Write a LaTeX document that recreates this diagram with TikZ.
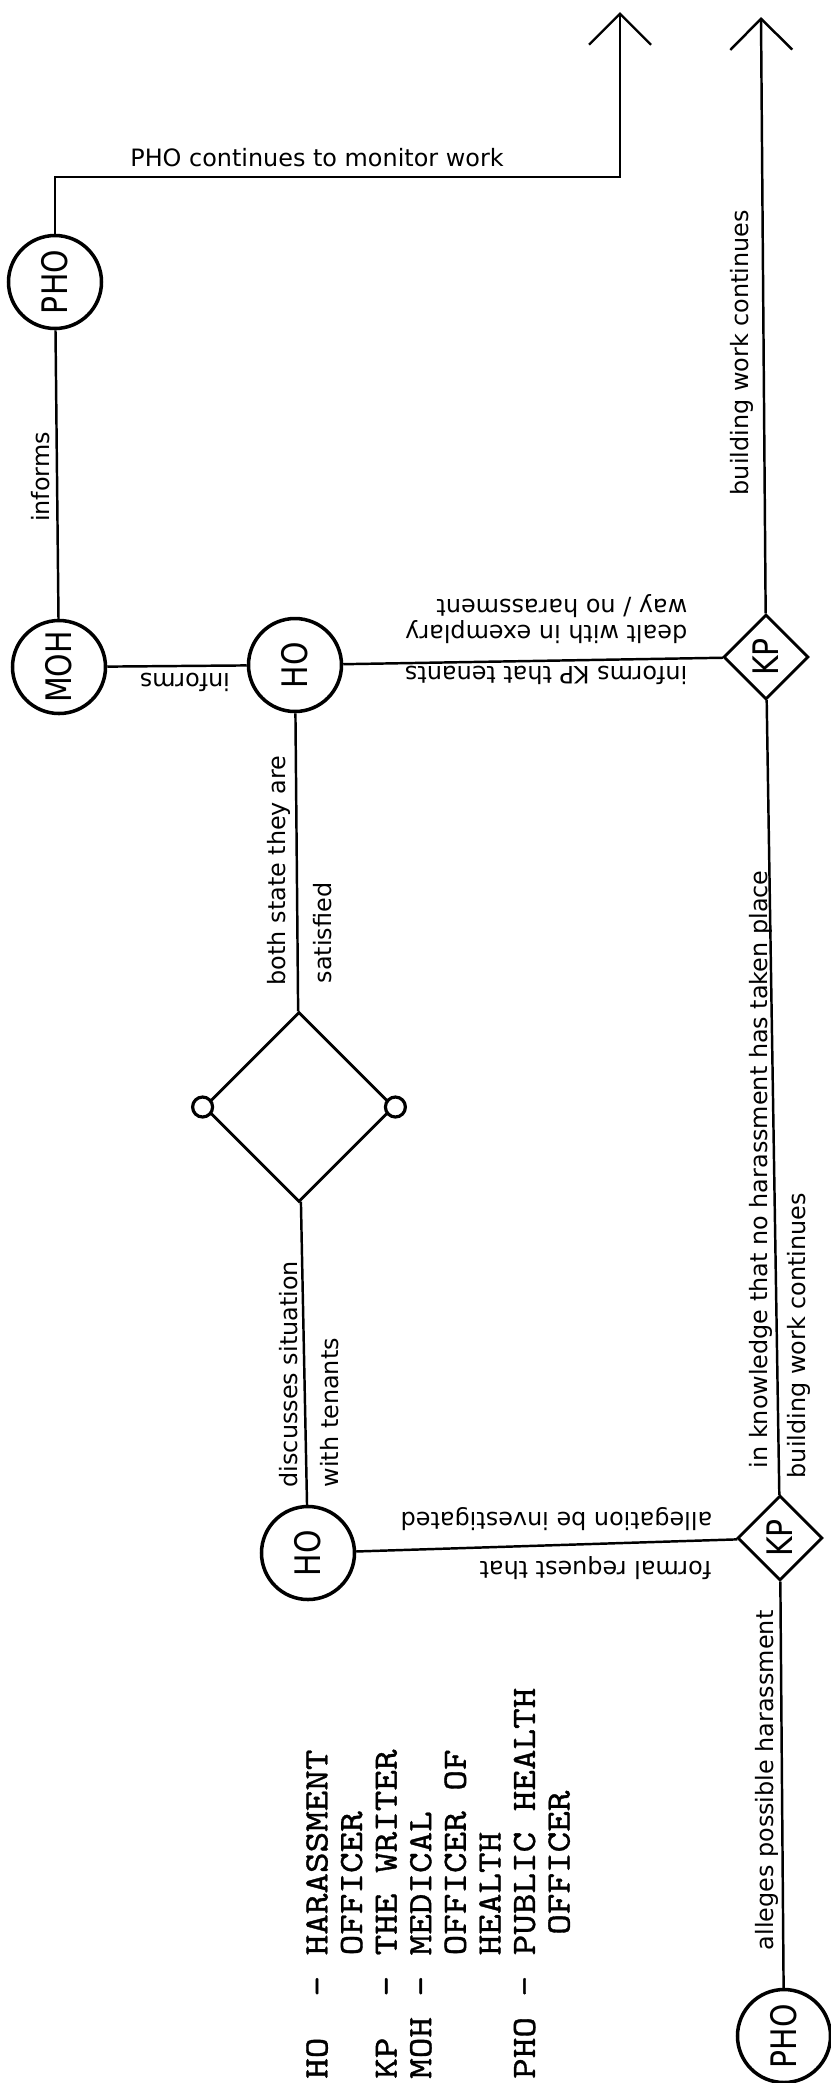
\documentclass[tikz,border=0pt]{standalone}
\usepackage{fontspec}
\usetikzlibrary{shapes.geometric, arrows.meta}
\newfontfamily\lblfont{DejaVu Sans}
\newfontfamily\actfont[FakeStretch=0.85]{DejaVu Sans}
\newfontfamily\keyfont[FakeStretch=1.15, FakeBold=1]{Latin Modern Mono}
\begin{document}
\begin{tikzpicture}[line width=0.7pt,
    actor/.style={draw, circle, line width=1pt, minimum size=0.93cm, inner sep=0pt, rotate=90, font=\actfont\fontsize{10}{12}\selectfont},
    kp/.style={draw, diamond, line width=0.8pt, minimum size=0.85cm, inner sep=0pt, rotate=90, font=\actfont\fontsize{10}{12}\selectfont},
    talk/.style={draw, diamond, line width=0.8pt, minimum size=1.9cm, inner sep=0pt},
    port/.style={draw, circle, fill=white, line width=0.9pt, minimum size=0.2cm, inner sep=0pt},
    lbl/.style={font=\lblfont\fontsize{6.8}{7.2}\selectfont, inner sep=1pt, align=left},
    vlbl/.style={lbl, rotate=90},
    hlbl/.style={lbl, rotate=180},
    keytext/.style={rotate=90, inner sep=0pt, align=left, font=\keyfont\fontsize{9.7}{9.84}\selectfont},
    flowon/.style={-{Straight Barb[length=0.31cm, width=0.62cm]}}]
  \useasboundingbox (0,0) rectangle (8.31,-20.83);
  % people
  \node[actor] (phoT) at (0.55,-2.82) {PHO};
  \node[actor] (moh) at (0.59,-6.67) {MOH};
  \node[actor] (hoT) at (2.95,-6.65) {HO};
  \node[actor] (hoB) at (3.08,-15.53) {HO};
  \node[actor] (phoB) at (7.84,-20.36) {PHO};
  \node[kp] (kpT) at (7.66,-6.57) {KP};
  \node[kp] (kpB) at (7.80,-15.38) {KP};
  % meeting with the tenants
  \node[talk] (talk) at (2.99,-11.07) {};
  \node[port] (portL) at (talk.west) {};
  \node[port] (portR) at (talk.east) {};
  \coordinate (c1) at (0.55,-1.77);
  \coordinate (c2) at (6.20,-1.77);
  \coordinate (tipL) at (6.20,-0.12);
  \coordinate (tipR) at (7.61,-0.17);
  % connectors
  \draw (phoB) -- (kpB);
  \draw (kpB) -- (kpT);
  \draw[flowon] (kpT) -- (tipR);
  \draw (kpB) -- (hoB);
  \draw (hoB) -- (talk);
  \draw (talk) -- (hoT);
  \draw (hoT) -- (kpT);
  \draw (hoT) -- (moh);
  \draw (moh) -- (phoT);
  \draw[flowon] (phoT) -- (c1) -- (c2) -- (tipL);
  % labels
  \node[vlbl, anchor=south] (lInformsA) at (0.55,-4.77) {informs};
  \node[hlbl, anchor=south] (lInformsB) at (1.85,-6.68) {informs};
  \node[lbl, anchor=south] (lMonitor) at (3.17,-1.72) {PHO continues to monitor work};
  \node[hlbl, anchor=south west] (lInformsC) at (6.92,-6.61) {informs KP that tenants};
  \node[hlbl, anchor=north west] (lDealt) at (6.92,-6.48) {dealt with in exemplary\\way / no harassment};
  \node[vlbl, anchor=south west] (lBuildA) at (7.58,-5.00) {building work continues};
  \node[vlbl, anchor=south west] (lBoth) at (2.95,-9.90) {both state they are};
  \node[vlbl, anchor=north west] (lSatis) at (3.085,-9.88) {satisfied};
  \node[vlbl, anchor=south west] (lDisc) at (3.03,-14.92) {discusses situation};
  \node[vlbl, anchor=north west] (lTen) at (3.16,-14.92) {with tenants};
  \node[hlbl, anchor=south west] (lFormal) at (7.16,-15.52) {formal request that};
  \node[hlbl, anchor=north west] (lAlleg) at (7.17,-15.35) {allegation be investigated};
  \node[vlbl, anchor=south west] (lKnow) at (7.77,-14.73) {in knowledge that no harassment has taken place};
  \node[vlbl, anchor=north west] (lBuildB) at (7.83,-14.83) {building work continues};
  \node[vlbl, anchor=south west] (lAlleges) at (7.83,-19.55) {alleges possible harassment};
  % key
  \node[keytext, anchor=north west] (key) at (3.05,-20.80) {HO~~-~HARASSMENT\\
    ~~~~~~OFFICER\\
    KP~~-~THE~WRITER\\
    MOH~-~MEDICAL\\
    ~~~~~~OFFICER~OF\\
    ~~~~~~HEALTH\\
    PHO~-~PUBLIC~HEALTH\\
    ~~~~~~~OFFICER};
\end{tikzpicture}
\end{document}
